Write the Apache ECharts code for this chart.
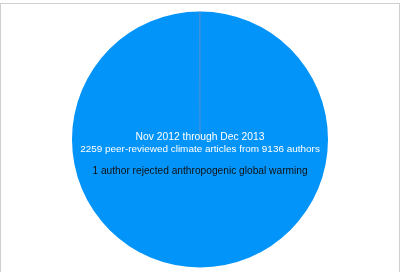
<!DOCTYPE html>
<html>
<head>
<meta charset="utf-8">
<script src="https://cdn.jsdelivr.net/npm/echarts@6/dist/echarts.min.js"></script>
<style>
html,body{margin:0;padding:0;background:#fff;overflow:hidden;}
#frame{position:absolute;left:0;top:3px;width:398px;height:300px;border:1px solid #cfcfcf;}
#chart{position:absolute;left:0;top:0;width:400px;height:272px;}
</style>
</head>
<body>
<div id="frame"></div>
<div id="chart"></div>
<script>
const categories = ['Accepted anthropogenic global warming', 'Rejected anthropogenic global warming'];
const authorCounts = [9135, 1];
const titleLines = ['Nov 2012 through Dec 2013', '2259 peer-reviewed climate articles from 9136 authors'];
const noteLine = '1 author rejected anthropogenic global warming';

const chart = echarts.init(document.getElementById('chart'), null, {renderer: 'canvas'});
function txt(s, y, fill, size) {
  return {type: 'text', z: 100, x: 200, y: y,
    style: {text: s, fill: fill, font: size + 'px "Liberation Sans", Arial, sans-serif',
      textAlign: 'center', textVerticalAlign: 'middle'}};
}
chart.setOption({
  animation: false,
  series: [{
    type: 'pie',
    center: [200, 139.5],
    radius: [0, 128],
    startAngle: 90,
    clockwise: true,
    minAngle: 0,
    label: {show: false},
    labelLine: {show: false},
    emphasis: {disabled: true},
    data: categories.map((c, i) => ({
      name: c,
      value: authorCounts[i],
      itemStyle: i === 0
        ? {color: '#0394fa', borderWidth: 0}
        : {color: '#2a6fb5', borderColor: '#5a8fc8', borderWidth: 0.6}
    }))
  }],
  graphic: [
    txt(titleLines[0], 137, '#ffffff', 10.3),
    txt(titleLines[1], 149.5, '#ffffff', 9.95),
    txt(noteLine, 171.5, '#111111', 10.2)
  ]
});
</script>
</body>
</html>
